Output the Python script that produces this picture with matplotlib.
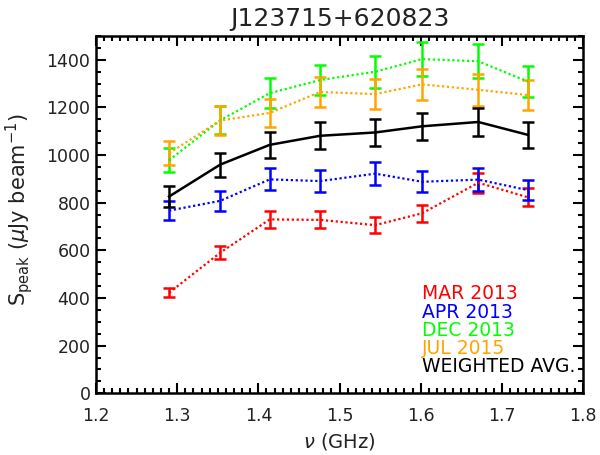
import matplotlib
matplotlib.use("Agg")
import matplotlib.pyplot as plt
from matplotlib.ticker import MultipleLocator

plt.rcParams['font.family'] = ['DejaVu Sans']
plt.rcParams['mathtext.fontset'] = 'dejavusans'

freq = [1.290, 1.353, 1.414, 1.476, 1.544, 1.602, 1.671, 1.732]

mar13 = [422, 590, 730, 728, 706, 756, 884, 823]
mar13_err = [18, 28, 36, 36, 35, 36, 42, 38]
apr13 = [767, 808, 898, 891, 922, 888, 897, 853]
apr13_err = [40, 41, 46, 46, 47, 45, 48, 43]
dec13 = [978, 1146, 1260, 1315, 1350, 1403, 1394, 1309]
dec13_err = [50, 58, 64, 62, 68, 73, 71, 66]
jul15 = [1008, 1145, 1177, 1265, 1256, 1297, 1274, 1252]
jul15_err = [50, 59, 60, 64, 63, 66, 67, 64]
wavg = [826, 960, 1043, 1081, 1095, 1121, 1139, 1085]
wavg_err = [44, 50, 55, 56, 56, 57, 60, 56]

labels = ["MAR 2013", "APR 2013", "DEC 2013", "JUL 2015", "WEIGHTED AVG."]
colors = ["#ff0000", "#0000ff", "#00ff00", "#ffa500", "#000000"]

fig = plt.figure(figsize=(6, 4.55), dpi=100)
ax = fig.add_axes([0.16, 0.1356, 0.8117, 0.7853])

series = [(mar13, mar13_err), (apr13, apr13_err), (dec13, dec13_err), (jul15, jul15_err)]
for (vals, errs), c in zip(series, colors[:4]):
    ax.errorbar(freq, vals, yerr=errs, color=c, ls=(0, (1, 1.2)), lw=1.6,
                elinewidth=1.8, capsize=4, capthick=1.8)
ax.errorbar(freq, wavg, yerr=wavg_err, color='black', ls='-', lw=1.8,
            elinewidth=1.8, capsize=4, capthick=1.8)

ax.set_xlim(1.2, 1.8)
ax.set_ylim(0, 1500)
ax.xaxis.set_major_locator(MultipleLocator(0.1))
ax.xaxis.set_minor_locator(MultipleLocator(0.01))
ax.yaxis.set_major_locator(MultipleLocator(200))
ax.yaxis.set_minor_locator(MultipleLocator(50))
ax.tick_params(which='both', direction='in', top=True, right=True, width=1.5,
               labelsize=12.5, labelcolor='#222222')
ax.tick_params(axis='x', which='major', pad=10)
ax.tick_params(axis='y', which='major', pad=4)
ax.tick_params(which='major', length=7)
ax.tick_params(which='minor', length=3.5)
for s in ax.spines.values():
    s.set_linewidth(1.8)

ax.set_xlabel(r"$\nu$ (GHz)", fontsize=14, color='#222222')
ax.xaxis.set_label_coords(0.5, -0.105)
ax.set_ylabel(r"S$_{\mathrm{peak}}$ ($\mu$Jy beam$^{-1}$)", fontsize=15, color='#222222')
ax.yaxis.set_label_coords(-0.125, 0.513)
ax.set_title("J123715+620823", fontsize=18, pad=7, color='#222222')

for i, (lab, c) in enumerate(zip(labels, colors)):
    ax.text(0.669, 0.2628 - i * 0.051, lab, color=c, fontsize=13.5,
            transform=ax.transAxes, va='baseline', ha='left')

fig.savefig("out.png", dpi=100)
